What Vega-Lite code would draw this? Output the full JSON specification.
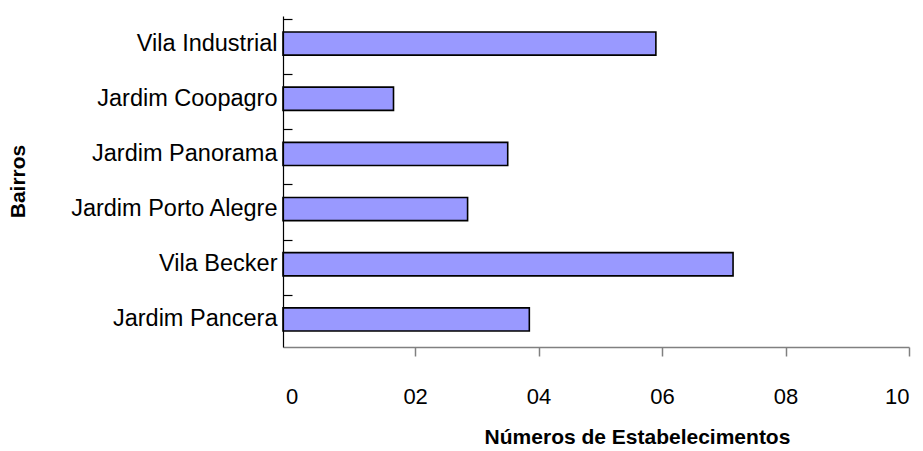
{
  "$schema": "https://vega.github.io/schema/vega-lite/v6.json",
  "width": 626,
  "height": 331,
  "autosize": {"type": "none"},
  "padding": {"left": 283, "top": 16, "right": 14, "bottom": 104},
  "background": "white",
  "config": {
    "view": {"stroke": null},
    "font": "Liberation Sans"
  },
  "data": {
    "values": [
      {"bairro": "Vila Industrial", "estabelecimentos": 5.9},
      {"bairro": "Jardim Coopagro", "estabelecimentos": 1.65},
      {"bairro": "Jardim Panorama", "estabelecimentos": 3.5},
      {"bairro": "Jardim Porto Alegre", "estabelecimentos": 2.85},
      {"bairro": "Vila Becker", "estabelecimentos": 7.15},
      {"bairro": "Jardim Pancera", "estabelecimentos": 3.85}
    ]
  },
  "encoding": {
    "x": {
      "field": "estabelecimentos",
      "type": "quantitative",
      "scale": {"domain": [-0.14, 10], "nice": false, "zero": false},
      "axis": {
        "values": [0, 2, 4, 6, 8, 10],
        "labelExpr": "datum.value === 0 ? '0' : format(datum.value, '02d')",
        "labelFontSize": 22,
        "labelColor": "#000000",
        "labelPadding": 30,
        "tickSize": 9,
        "tickColor": "#808080",
        "tickWidth": 1.5,
        "tickOpacity": {"condition": {"test": "datum.value === 0", "value": 0}, "value": 1},
        "domainColor": "#808080",
        "domainWidth": 1.5,
        "grid": false,
        "title": "Números de Estabelecimentos",
        "titleFontSize": 21,
        "titleFontWeight": "bold",
        "titleColor": "#000000",
        "titleX": 354,
        "titleY": 79,
        "titleAlign": "center",
        "titleBaseline": "top"
      }
    },
    "x2": {"datum": -0.14}
  },
  "layer": [
    {
      "mark": {"type": "bar", "fill": "#9999ff", "stroke": "#000000", "strokeWidth": 1.6},
      "encoding": {
        "y": {
          "field": "bairro",
          "type": "nominal",
          "sort": null,
          "scale": {"paddingInner": 0.58, "paddingOuter": 0.29},
          "axis": {
            "title": "Bairros",
            "titleFontSize": 21,
            "titleFontWeight": "bold",
            "titleColor": "#000000",
            "titleX": -265,
            "titleY": 165,
            "titleAngle": 270,
            "titleAlign": "center",
            "titleBaseline": "middle",
            "labelFontSize": 23.5,
            "labelColor": "#000000",
            "labelLimit": 400,
            "labelPadding": 6,
            "ticks": false,
            "domainColor": "#000000",
            "domainWidth": 1.2,
            "zindex": 1
          }
        }
      }
    },
    {
      "mark": {"type": "bar", "opacity": 0},
      "encoding": {
        "y": {
          "field": "bairro",
          "type": "nominal",
          "sort": null,
          "axis": {
            "orient": "right",
            "offset": -626,
            "title": null,
            "labels": false,
            "domain": false,
            "ticks": true,
            "tickSize": 9,
            "bandPosition": 0,
            "tickOffset": -13,
            "tickExtra": false,
            "tickColor": "#000000",
            "tickWidth": 1.2,
            "zindex": 1
          }
        }
      }
    }
  ],
  "resolve": {"axis": {"y": "independent"}}
}
